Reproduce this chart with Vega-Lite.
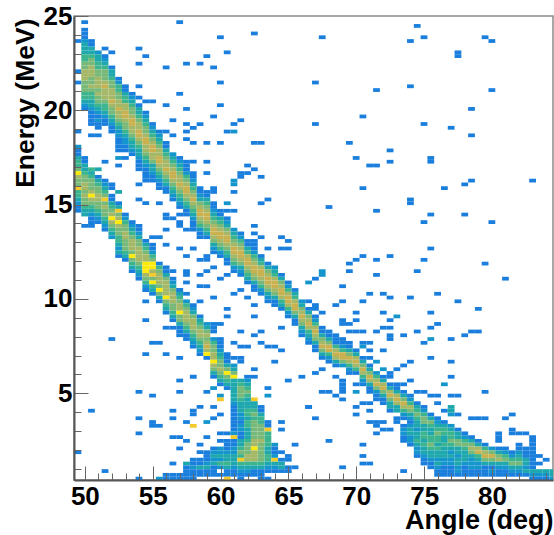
{"$schema":"https://vega.github.io/schema/vega-lite/v6.json","width":479,"height":464,"autosize":"none","padding":{"left":74,"top":16,"right":1,"bottom":55},"background":"white","config":{"view":{"stroke":"#8a8a8a","strokeWidth":1.5}},"data":{"values":[
{"x":49.7,"y":24.6,"c":1},{"x":56.7,"y":24.6,"c":1},{"x":59.7,"y":23.8,"c":1},{"x":62.2,"y":24,"c":1},{"x":49.2,"y":23.6,"c":1},{"x":53.7,"y":23.2,"c":1},{"x":51.2,"y":23.2,"c":1},{"x":51.7,"y":23,"c":1},{"x":60.2,"y":23,"c":1},{"x":58.7,"y":22.8,"c":1},{"x":54.2,"y":22.8,"c":1},{"x":53.7,"y":22.4,"c":1},{"x":57.2,"y":22.4,"c":1},{"x":58.2,"y":22.4,"c":1},{"x":55.7,"y":22.2,"c":1},{"x":59.2,"y":22.2,"c":1},{"x":49.2,"y":22,"c":1},{"x":49.2,"y":21.4,"c":1},{"x":59.7,"y":21.4,"c":1},{"x":53.7,"y":21.2,"c":1},{"x":56.7,"y":20.8,"c":1},{"x":53.7,"y":20.6,"c":1},{"x":54.2,"y":20.4,"c":1},{"x":54.7,"y":20.4,"c":1},{"x":55.7,"y":20.2,"c":1},{"x":59.7,"y":20.2,"c":1},{"x":57.2,"y":20,"c":1},{"x":54.2,"y":19.8,"c":1},{"x":59.2,"y":19.6,"c":1},{"x":56.2,"y":19.4,"c":1},{"x":61.2,"y":19.4,"c":1},{"x":57.2,"y":19.2,"c":1},{"x":58.2,"y":19.2,"c":1},{"x":60.7,"y":19.2,"c":1},{"x":57.7,"y":19,"c":1},{"x":49.2,"y":18.8,"c":1},{"x":55.7,"y":18.8,"c":1},{"x":57.2,"y":18.8,"c":1},{"x":60.2,"y":18.8,"c":1},{"x":60.7,"y":18.8,"c":2},{"x":50.2,"y":18.6,"c":1},{"x":50.7,"y":18.6,"c":1},{"x":56.2,"y":18.6,"c":1},{"x":57.2,"y":18.4,"c":1},{"x":57.7,"y":18.2,"c":1},{"x":58.7,"y":18.2,"c":1},{"x":59.7,"y":18.2,"c":1},{"x":62.2,"y":18.2,"c":1},{"x":62.7,"y":18.2,"c":1},{"x":49.2,"y":18,"c":2},{"x":49.2,"y":17.8,"c":1},{"x":49.2,"y":17.6,"c":1},{"x":52.2,"y":17.4,"c":2},{"x":52.7,"y":17.4,"c":1},{"x":51.2,"y":17.2,"c":1},{"x":52.2,"y":17,"c":1},{"x":57.2,"y":17.2,"c":1},{"x":57.7,"y":17.2,"c":1},{"x":58.7,"y":17.2,"c":1},{"x":61.7,"y":17,"c":1},{"x":62.2,"y":16.8,"c":1},{"x":61.2,"y":16.6,"c":1},{"x":61.7,"y":16.6,"c":1},{"x":58.7,"y":16.6,"c":1},{"x":61.2,"y":16.4,"c":1},{"x":62.7,"y":16.4,"c":1},{"x":60.7,"y":16.2,"c":2},{"x":60.7,"y":16,"c":2},{"x":53.7,"y":16,"c":1},{"x":60.7,"y":15.6,"c":1},{"x":59.2,"y":15.8,"c":1},{"x":59.2,"y":15.6,"c":1},{"x":58.7,"y":15.6,"c":1},{"x":58.2,"y":15.8,"c":1},{"x":63.2,"y":15.2,"c":1},{"x":62.7,"y":15,"c":1},{"x":60.2,"y":15,"c":2},{"x":53.7,"y":15.2,"c":1},{"x":54.2,"y":15,"c":1},{"x":55.2,"y":15,"c":1},{"x":60.2,"y":14.6,"c":1},{"x":60.7,"y":14.6,"c":1},{"x":55.7,"y":14.4,"c":1},{"x":55.7,"y":14.2,"c":1},{"x":56.2,"y":14.2,"c":1},{"x":56.7,"y":14.4,"c":1},{"x":56.7,"y":14,"c":1},{"x":56.7,"y":13.8,"c":1},{"x":62.2,"y":13.8,"c":1},{"x":57.2,"y":13.6,"c":1},{"x":57.7,"y":13.6,"c":1},{"x":55.7,"y":13.6,"c":1},{"x":62.2,"y":13.4,"c":1},{"x":54.7,"y":13.2,"c":1},{"x":55.2,"y":13.2,"c":1},{"x":62.7,"y":13.2,"c":1},{"x":58.2,"y":13.2,"c":1},{"x":64.2,"y":13.2,"c":1},{"x":64.7,"y":13,"c":1},{"x":62.2,"y":13,"c":1},{"x":62.2,"y":12.8,"c":1},{"x":61.7,"y":12.8,"c":1},{"x":55.7,"y":12.8,"c":1},{"x":56.7,"y":12.6,"c":1},{"x":57.7,"y":12.6,"c":1},{"x":63.2,"y":12.6,"c":1},{"x":64.2,"y":12.6,"c":1},{"x":64.7,"y":12.6,"c":1},
{"x":67.2,"y":23.8,"c":1},{"x":74.2,"y":24.4,"c":1},{"x":74.7,"y":23.8,"c":1},{"x":73.7,"y":23.6,"c":1},{"x":79.2,"y":23.8,"c":1},{"x":79.7,"y":23.6,"c":1},{"x":77.2,"y":23,"c":1},{"x":77.2,"y":22.8,"c":1},{"x":66.7,"y":21.4,"c":1},{"x":71.2,"y":21,"c":1},{"x":73.7,"y":21.2,"c":1},{"x":79.7,"y":21,"c":1},{"x":78.2,"y":20,"c":1},{"x":70.2,"y":19.6,"c":1},{"x":66.7,"y":19.2,"c":1},{"x":74.7,"y":19.2,"c":1},{"x":76.7,"y":19,"c":1},{"x":78.2,"y":18.6,"c":1},{"x":69.2,"y":18.2,"c":1},{"x":72.2,"y":17.8,"c":1},{"x":69.7,"y":17.4,"c":1},{"x":72.2,"y":17.2,"c":1},{"x":75.2,"y":17.4,"c":1},{"x":75.2,"y":17.2,"c":1},{"x":70.7,"y":17,"c":1},{"x":71.2,"y":17,"c":1},{"x":78.2,"y":16.2,"c":1},{"x":77.7,"y":16,"c":1},{"x":82.7,"y":16.2,"c":1},{"x":70.2,"y":15.8,"c":1},{"x":76.2,"y":15.8,"c":1},{"x":73.7,"y":15.2,"c":1},{"x":73.7,"y":15,"c":1},{"x":67.7,"y":14.8,"c":1},{"x":71.2,"y":14.6,"c":1},{"x":75.2,"y":14.4,"c":1},{"x":77.7,"y":14.4,"c":1},{"x":74.7,"y":14,"c":1},{"x":79.7,"y":14,"c":1},{"x":75.2,"y":12.6,"c":1},
{"x":70.2,"y":12.2,"c":1},{"x":72.2,"y":12.2,"c":1},{"x":69.7,"y":12,"c":1},{"x":71.2,"y":12,"c":1},{"x":74.7,"y":12,"c":1},{"x":69.2,"y":11.8,"c":1},{"x":79.2,"y":11.8,"c":1},{"x":69.2,"y":11.4,"c":1},{"x":74.2,"y":11.4,"c":1},{"x":67.2,"y":11.4,"c":2},{"x":67.2,"y":11.2,"c":2},{"x":71.2,"y":11.2,"c":1},{"x":66.7,"y":11,"c":1},{"x":80.7,"y":11,"c":1},{"x":66.2,"y":10.8,"c":2},{"x":68.7,"y":10.6,"c":1},{"x":70.7,"y":10.2,"c":1},{"x":71.7,"y":10.2,"c":1},{"x":75.7,"y":10.2,"c":1},{"x":72.2,"y":10,"c":1},{"x":73.7,"y":10,"c":1},{"x":68.7,"y":9.8,"c":1},{"x":70.2,"y":9.8,"c":1},{"x":77.2,"y":9.8,"c":1},{"x":68.2,"y":9.6,"c":1},{"x":66.2,"y":9.8,"c":1},{"x":66.7,"y":9.6,"c":1},{"x":66.7,"y":9.4,"c":1},{"x":67.2,"y":9.2,"c":1},{"x":78.7,"y":9.4,"c":1},{"x":69.7,"y":9.2,"c":1},{"x":71.7,"y":9.2,"c":1},{"x":75.2,"y":9.2,"c":1},{"x":72.7,"y":9,"c":2},{"x":72.2,"y":8.8,"c":1},{"x":68.7,"y":8.8,"c":1},{"x":69.7,"y":8.8,"c":1},{"x":68.7,"y":8.6,"c":1},{"x":69.2,"y":8.6,"c":1},{"x":75.7,"y":8.6,"c":1},{"x":75.2,"y":8.4,"c":1},{"x":71.7,"y":8.4,"c":1},{"x":72.2,"y":8.4,"c":1},{"x":69.2,"y":8.2,"c":1},{"x":69.7,"y":8.2,"c":1},{"x":70.2,"y":8.2,"c":1},{"x":71.2,"y":8.2,"c":1},{"x":74.2,"y":8.2,"c":1},{"x":72.2,"y":8,"c":1},{"x":72.2,"y":7.8,"c":1},{"x":78.2,"y":8.2,"c":1},{"x":78.7,"y":8.2,"c":1},{"x":77.7,"y":8,"c":1},{"x":73.2,"y":8,"c":1},{"x":75.2,"y":7.8,"c":2},{"x":76.7,"y":7.8,"c":1},{"x":74.7,"y":7.6,"c":1},{"x":70.2,"y":7.6,"c":1},{"x":70.7,"y":7.6,"c":1},{"x":70.2,"y":7.4,"c":2},{"x":70.7,"y":7.2,"c":1},{"x":71.7,"y":7.2,"c":1},{"x":75.2,"y":6.8,"c":1},{"x":76.7,"y":6.6,"c":1},{"x":70.7,"y":6.8,"c":1},{"x":71.2,"y":6.6,"c":2},{"x":70.7,"y":6.4,"c":1},{"x":73.7,"y":6.6,"c":1},{"x":73.2,"y":6.4,"c":1},{"x":72.7,"y":6.2,"c":1},{"x":71.7,"y":6.2,"c":2},{"x":72.2,"y":6,"c":1},{"x":72.2,"y":5.8,"c":1},{"x":76.7,"y":5.8,"c":1},{"x":68.2,"y":5.8,"c":1},{"x":68.7,"y":5.6,"c":1},{"x":68.7,"y":5.4,"c":1},{"x":68.7,"y":5.2,"c":1},{"x":68.7,"y":5,"c":1},{"x":69.7,"y":5.4,"c":1},{"x":69.7,"y":5,"c":2},{"x":67.2,"y":6.2,"c":1},{"x":66.7,"y":6,"c":1},{"x":70.7,"y":5.2,"c":1},{"x":73.7,"y":5.6,"c":1},{"x":76.2,"y":5.4,"c":2},{"x":72.2,"y":5.4,"c":1},{"x":72.7,"y":5.4,"c":1},{"x":73.2,"y":5.4,"c":1},{"x":79.2,"y":5,"c":1},{"x":67.2,"y":5,"c":1},{"x":67.7,"y":5,"c":1},{"x":68.2,"y":4.8,"c":1},{"x":68.7,"y":4.6,"c":1},{"x":74.2,"y":5,"c":1},{"x":74.7,"y":5,"c":1},{"x":70.7,"y":5,"c":1},{"x":75.2,"y":4.8,"c":1},{"x":75.7,"y":4.8,"c":1},{"x":76.7,"y":4.8,"c":1},{"x":77.2,"y":4.8,"c":1},{"x":75.7,"y":4.4,"c":1},{"x":66.2,"y":4.2,"c":1},{"x":69.7,"y":4.2,"c":1},{"x":70.2,"y":4.4,"c":1},{"x":70.7,"y":4.4,"c":1},{"x":69.7,"y":3.8,"c":1},{"x":70.7,"y":4,"c":1},{"x":66.7,"y":3.6,"c":1},{"x":76.2,"y":4,"c":1},{"x":77.2,"y":3.8,"c":1},{"x":76.7,"y":4.2,"c":3},{"x":76.7,"y":4,"c":3},{"x":76.7,"y":3.8,"c":2},{"x":78.2,"y":3.6,"c":1},{"x":78.7,"y":3.6,"c":1},{"x":79.2,"y":3.6,"c":1},{"x":80.7,"y":3.6,"c":1},{"x":81.2,"y":3.8,"c":1},{"x":70.7,"y":3.4,"c":1},{"x":71.2,"y":3.4,"c":1},{"x":71.7,"y":3.4,"c":1},{"x":71.2,"y":3.2,"c":1},{"x":71.7,"y":3,"c":1},{"x":72.2,"y":3,"c":1},{"x":71.2,"y":2.8,"c":1},{"x":67.7,"y":2.4,"c":1},{"x":70.2,"y":2.2,"c":1},{"x":70.2,"y":1.6,"c":1},{"x":70.2,"y":1.2,"c":1},{"x":70.7,"y":1.2,"c":1},{"x":68.7,"y":1,"c":1},{"x":73.2,"y":0.8,"c":1},
{"x":57.2,"y":12.2,"c":1},{"x":58.2,"y":12,"c":1},{"x":58.7,"y":12.2,"c":1},{"x":58.7,"y":12,"c":1},{"x":59.2,"y":11.6,"c":1},{"x":58.7,"y":11.4,"c":1},{"x":58.2,"y":11.2,"c":1},{"x":55.7,"y":11.6,"c":1},{"x":56.2,"y":11.4,"c":1},{"x":57.2,"y":11.4,"c":1},{"x":57.2,"y":11.2,"c":1},{"x":55.7,"y":11.2,"c":1},{"x":56.2,"y":11,"c":1},{"x":59.7,"y":11,"c":1},{"x":60.2,"y":11.2,"c":1},{"x":57.2,"y":10.8,"c":1},{"x":58.2,"y":10.6,"c":1},{"x":58.7,"y":10.6,"c":1},{"x":56.7,"y":10.4,"c":1},{"x":56.7,"y":10.2,"c":1},{"x":57.2,"y":10.2,"c":1},{"x":60.7,"y":10.2,"c":1},{"x":61.2,"y":10.4,"c":1},{"x":59.2,"y":10,"c":1},{"x":61.7,"y":10,"c":1},{"x":54.2,"y":9.8,"c":1},{"x":58.2,"y":9.8,"c":1},{"x":62.2,"y":9.6,"c":1},{"x":60.2,"y":9.4,"c":1},{"x":60.2,"y":9,"c":1},{"x":62.2,"y":9,"c":1},{"x":54.2,"y":8.8,"c":1},{"x":59.2,"y":8.6,"c":1},{"x":59.7,"y":8.6,"c":1},{"x":55.7,"y":8.4,"c":1},{"x":56.2,"y":8.4,"c":1},{"x":56.7,"y":8.4,"c":1},{"x":59.2,"y":8.4,"c":1},{"x":59.2,"y":8.2,"c":1},{"x":61.2,"y":8.2,"c":1},{"x":62.7,"y":8.2,"c":1},{"x":64.2,"y":8.4,"c":1},{"x":62.2,"y":8,"c":1},{"x":51.7,"y":7.8,"c":1},{"x":54.7,"y":7.6,"c":1},{"x":55.2,"y":7.6,"c":1},{"x":60.7,"y":7.6,"c":1},{"x":62.7,"y":7.6,"c":1},{"x":61.2,"y":7.4,"c":1},{"x":61.7,"y":7.4,"c":1},{"x":63.2,"y":7.4,"c":1},{"x":63.7,"y":7.4,"c":1},{"x":64.2,"y":7.2,"c":1},{"x":54.2,"y":7,"c":1},{"x":55.7,"y":7,"c":1},{"x":56.7,"y":6.8,"c":1},{"x":60.7,"y":6.8,"c":1},{"x":61.2,"y":6.8,"c":1},{"x":61.2,"y":6.6,"c":1},{"x":63.7,"y":6.6,"c":1},{"x":62.2,"y":6.2,"c":1},{"x":57.7,"y":5.8,"c":1},{"x":59.2,"y":5.8,"c":1},{"x":56.7,"y":5.6,"c":1},{"x":64.7,"y":5.6,"c":1},{"x":65.7,"y":5.8,"c":1},{"x":63.2,"y":5.2,"c":1},{"x":59.2,"y":5.2,"c":2},{"x":53.7,"y":5,"c":1},{"x":56.7,"y":5,"c":1},{"x":58.7,"y":5,"c":1},{"x":54.7,"y":4.8,"c":1},{"x":59.7,"y":4.8,"c":2},{"x":63.2,"y":4.8,"c":2},{"x":59.7,"y":4.6,"c":8},{"x":58.2,"y":4.2,"c":1},{"x":59.2,"y":4.2,"c":1},{"x":66.2,"y":4.2,"c":1},{"x":50.2,"y":4,"c":1},{"x":56.2,"y":4,"c":1},{"x":57.7,"y":4,"c":1},{"x":57.7,"y":3.8,"c":1},{"x":59.7,"y":3.8,"c":1},{"x":53.7,"y":3.6,"c":1},{"x":56.2,"y":3.6,"c":1},{"x":59.2,"y":3.6,"c":1},{"x":54.7,"y":3.4,"c":1},{"x":57.2,"y":3.4,"c":1},{"x":58.7,"y":3.4,"c":2},{"x":54.7,"y":3.2,"c":1},{"x":55.2,"y":3.2,"c":1},{"x":57.7,"y":3.2,"c":8},{"x":64.2,"y":3.4,"c":1},{"x":64.2,"y":3,"c":1},{"x":53.7,"y":2.8,"c":1},{"x":59.7,"y":2.8,"c":1},{"x":60.2,"y":2.8,"c":1},{"x":56.2,"y":2.6,"c":1},{"x":56.7,"y":2.6,"c":1},{"x":58.7,"y":2.6,"c":1},{"x":57.2,"y":2.4,"c":1},{"x":59.7,"y":2.4,"c":1},{"x":60.2,"y":2.4,"c":1},{"x":58.2,"y":2.2,"c":1},{"x":60.2,"y":2.2,"c":1},{"x":65.2,"y":2.2,"c":1},{"x":63.7,"y":2.2,"c":2},{"x":56.7,"y":2,"c":1},{"x":49.2,"y":1.8,"c":1},{"x":58.2,"y":1.8,"c":1},{"x":58.7,"y":1.8,"c":1},{"x":64.2,"y":1.8,"c":1},{"x":64.7,"y":1.6,"c":1},{"x":64.7,"y":1.4,"c":1},{"x":57.7,"y":1.4,"c":1},{"x":56.2,"y":1.2,"c":1},{"x":65.2,"y":1,"c":1},{"x":51.2,"y":0.8,"c":1},{"x":53.7,"y":0.4,"c":1},
{"x":49.7,"y":24.2,"c":1},{"x":49.7,"y":24,"c":1},{"x":49.7,"y":23.8,"c":1},{"x":49.7,"y":23.6,"c":2},{"x":49.7,"y":23.4,"c":3},{"x":49.7,"y":23.2,"c":3},{"x":49.7,"y":23,"c":3},{"x":49.7,"y":22.8,"c":4},{"x":49.7,"y":22.6,"c":4},{"x":49.7,"y":22.4,"c":5},{"x":49.7,"y":22.2,"c":5},{"x":49.7,"y":22,"c":6},{"x":49.7,"y":21.8,"c":6},{"x":49.7,"y":21.6,"c":6},{"x":49.7,"y":21.4,"c":5},{"x":49.7,"y":21.2,"c":5},{"x":49.7,"y":21,"c":5},{"x":49.7,"y":20.8,"c":4},{"x":49.7,"y":20.6,"c":4},{"x":49.7,"y":20.4,"c":3},{"x":49.7,"y":20.2,"c":2},{"x":49.7,"y":20,"c":1},
{"x":50.2,"y":23.6,"c":1},{"x":50.2,"y":23.4,"c":1},{"x":50.2,"y":23.2,"c":3},{"x":50.2,"y":23,"c":3},{"x":50.2,"y":22.8,"c":4},{"x":50.2,"y":22.6,"c":5},{"x":50.2,"y":22.4,"c":5},{"x":50.2,"y":22.2,"c":6},{"x":50.2,"y":22,"c":6},{"x":50.2,"y":21.8,"c":6},{"x":50.2,"y":21.6,"c":5},{"x":50.2,"y":21.4,"c":5},{"x":50.2,"y":21.2,"c":6},{"x":50.2,"y":21,"c":5},{"x":50.2,"y":20.8,"c":4},{"x":50.2,"y":20.6,"c":4},{"x":50.2,"y":20.4,"c":3},{"x":50.2,"y":20.2,"c":3},{"x":50.2,"y":20,"c":2},{"x":50.2,"y":19.8,"c":1},{"x":50.2,"y":19.6,"c":1},{"x":50.2,"y":19.4,"c":1},{"x":50.2,"y":19.2,"c":1},
{"x":50.7,"y":23,"c":2},{"x":50.7,"y":22.8,"c":3},{"x":50.7,"y":22.6,"c":3},{"x":50.7,"y":22.4,"c":4},{"x":50.7,"y":22.2,"c":4},{"x":50.7,"y":22,"c":5},{"x":50.7,"y":21.8,"c":5},{"x":50.7,"y":21.6,"c":6},{"x":50.7,"y":21.4,"c":6},{"x":50.7,"y":21.2,"c":6},{"x":50.7,"y":21,"c":5},{"x":50.7,"y":20.8,"c":6},{"x":50.7,"y":20.6,"c":5},{"x":50.7,"y":20.4,"c":5},{"x":50.7,"y":20.2,"c":4},{"x":50.7,"y":20,"c":3},{"x":50.7,"y":19.8,"c":2},{"x":50.7,"y":19.6,"c":1},{"x":50.7,"y":19.4,"c":2},{"x":50.7,"y":19.2,"c":1},{"x":50.7,"y":19,"c":1},
{"x":51.2,"y":22.8,"c":1},{"x":51.2,"y":22.6,"c":2},{"x":51.2,"y":22.4,"c":3},{"x":51.2,"y":22.2,"c":4},{"x":51.2,"y":22,"c":5},{"x":51.2,"y":21.8,"c":5},{"x":51.2,"y":21.6,"c":5},{"x":51.2,"y":21.4,"c":6},{"x":51.2,"y":21.2,"c":7},{"x":51.2,"y":21,"c":6},{"x":51.2,"y":20.8,"c":6},{"x":51.2,"y":20.6,"c":6},{"x":51.2,"y":20.4,"c":5},{"x":51.2,"y":20.2,"c":4},{"x":51.2,"y":20,"c":4},{"x":51.2,"y":19.8,"c":3},{"x":51.2,"y":19.6,"c":2},{"x":51.2,"y":19.4,"c":1},{"x":51.2,"y":19.2,"c":1},
{"x":51.7,"y":22.2,"c":1},{"x":51.7,"y":22,"c":3},{"x":51.7,"y":21.8,"c":3},{"x":51.7,"y":21.6,"c":4},{"x":51.7,"y":21.4,"c":5},{"x":51.7,"y":21.2,"c":5},{"x":51.7,"y":21,"c":6},{"x":51.7,"y":20.8,"c":6},{"x":51.7,"y":20.6,"c":6},{"x":51.7,"y":20.4,"c":7},{"x":51.7,"y":20.2,"c":6},{"x":51.7,"y":20,"c":5},{"x":51.7,"y":19.8,"c":5},{"x":51.7,"y":19.6,"c":4},{"x":51.7,"y":19.4,"c":3},{"x":51.7,"y":19.2,"c":2},{"x":51.7,"y":19,"c":1},{"x":51.7,"y":18.8,"c":1},
{"x":52.2,"y":21.6,"c":1},{"x":52.2,"y":21.4,"c":2},{"x":52.2,"y":21.2,"c":4},{"x":52.2,"y":21,"c":4},{"x":52.2,"y":20.8,"c":5},{"x":52.2,"y":20.6,"c":5},{"x":52.2,"y":20.4,"c":6},{"x":52.2,"y":20.2,"c":6},{"x":52.2,"y":20,"c":7},{"x":52.2,"y":19.8,"c":6},{"x":52.2,"y":19.6,"c":6},{"x":52.2,"y":19.4,"c":5},{"x":52.2,"y":19.2,"c":4},{"x":52.2,"y":19,"c":3},{"x":52.2,"y":18.8,"c":2},{"x":52.2,"y":18.6,"c":2},{"x":52.2,"y":18.4,"c":1},{"x":52.2,"y":18.2,"c":1},{"x":52.2,"y":18,"c":1},{"x":52.2,"y":17.8,"c":1},
{"x":52.7,"y":21.2,"c":1},{"x":52.7,"y":21,"c":1},{"x":52.7,"y":20.8,"c":3},{"x":52.7,"y":20.6,"c":4},{"x":52.7,"y":20.4,"c":4},{"x":52.7,"y":20.2,"c":6},{"x":52.7,"y":20,"c":6},{"x":52.7,"y":19.8,"c":7},{"x":52.7,"y":19.6,"c":7},{"x":52.7,"y":19.4,"c":6},{"x":52.7,"y":19.2,"c":5},{"x":52.7,"y":19,"c":5},{"x":52.7,"y":18.8,"c":4},{"x":52.7,"y":18.6,"c":3},{"x":52.7,"y":18.4,"c":2},{"x":52.7,"y":18.2,"c":2},{"x":52.7,"y":18,"c":1},{"x":52.7,"y":17.8,"c":1},
{"x":53.2,"y":20.8,"c":1},{"x":53.2,"y":20.6,"c":2},{"x":53.2,"y":20.4,"c":3},{"x":53.2,"y":20.2,"c":4},{"x":53.2,"y":20,"c":5},{"x":53.2,"y":19.8,"c":5},{"x":53.2,"y":19.6,"c":6},{"x":53.2,"y":19.4,"c":7},{"x":53.2,"y":19.2,"c":7},{"x":53.2,"y":19,"c":6},{"x":53.2,"y":18.8,"c":6},{"x":53.2,"y":18.6,"c":5},{"x":53.2,"y":18.4,"c":4},{"x":53.2,"y":18.2,"c":3},{"x":53.2,"y":18,"c":3},{"x":53.2,"y":17.8,"c":2},{"x":53.2,"y":17.6,"c":1},
{"x":53.7,"y":20.2,"c":1},{"x":53.7,"y":20,"c":3},{"x":53.7,"y":19.8,"c":3},{"x":53.7,"y":19.6,"c":4},{"x":53.7,"y":19.4,"c":5},{"x":53.7,"y":19.2,"c":6},{"x":53.7,"y":19,"c":6},{"x":53.7,"y":18.8,"c":7},{"x":53.7,"y":18.6,"c":7},{"x":53.7,"y":18.4,"c":6},{"x":53.7,"y":18.2,"c":5},{"x":53.7,"y":18,"c":4},{"x":53.7,"y":17.8,"c":3},{"x":53.7,"y":17.6,"c":3},{"x":53.7,"y":17.4,"c":2},{"x":53.7,"y":17.2,"c":1},{"x":53.7,"y":17,"c":1},{"x":53.7,"y":16.8,"c":1},
{"x":54.2,"y":19.6,"c":2},{"x":54.2,"y":19.4,"c":3},{"x":54.2,"y":19.2,"c":4},{"x":54.2,"y":19,"c":5},{"x":54.2,"y":18.8,"c":5},{"x":54.2,"y":18.6,"c":6},{"x":54.2,"y":18.4,"c":7},{"x":54.2,"y":18.2,"c":7},{"x":54.2,"y":18,"c":6},{"x":54.2,"y":17.8,"c":6},{"x":54.2,"y":17.6,"c":5},{"x":54.2,"y":17.4,"c":4},{"x":54.2,"y":17.2,"c":3},{"x":54.2,"y":17,"c":2},{"x":54.2,"y":16.8,"c":1},{"x":54.2,"y":16.6,"c":1},{"x":54.2,"y":16.4,"c":1},{"x":54.2,"y":16.2,"c":1},
{"x":54.7,"y":19.2,"c":1},{"x":54.7,"y":19,"c":2},{"x":54.7,"y":18.8,"c":3},{"x":54.7,"y":18.6,"c":4},{"x":54.7,"y":18.4,"c":5},{"x":54.7,"y":18.2,"c":6},{"x":54.7,"y":18,"c":7},{"x":54.7,"y":17.8,"c":7},{"x":54.7,"y":17.6,"c":6},{"x":54.7,"y":17.4,"c":6},{"x":54.7,"y":17.2,"c":5},{"x":54.7,"y":17,"c":3},{"x":54.7,"y":16.8,"c":3},{"x":54.7,"y":16.6,"c":2},{"x":54.7,"y":16.4,"c":1},{"x":54.7,"y":16.2,"c":1},
{"x":55.2,"y":18.8,"c":1},{"x":55.2,"y":18.6,"c":2},{"x":55.2,"y":18.4,"c":3},{"x":55.2,"y":18.2,"c":4},{"x":55.2,"y":18,"c":5},{"x":55.2,"y":17.8,"c":6},{"x":55.2,"y":17.6,"c":6},{"x":55.2,"y":17.4,"c":7},{"x":55.2,"y":17.2,"c":7},{"x":55.2,"y":17,"c":6},{"x":55.2,"y":16.8,"c":5},{"x":55.2,"y":16.6,"c":4},{"x":55.2,"y":16.4,"c":3},{"x":55.2,"y":16.2,"c":2},{"x":55.2,"y":16,"c":1},{"x":55.2,"y":15.8,"c":1},
{"x":55.7,"y":18.2,"c":1},{"x":55.7,"y":18,"c":1},{"x":55.7,"y":17.8,"c":3},{"x":55.7,"y":17.6,"c":4},{"x":55.7,"y":17.4,"c":5},{"x":55.7,"y":17.2,"c":6},{"x":55.7,"y":17,"c":6},{"x":55.7,"y":16.8,"c":7},{"x":55.7,"y":16.6,"c":6},{"x":55.7,"y":16.4,"c":5},{"x":55.7,"y":16.2,"c":4},{"x":55.7,"y":16,"c":3},{"x":55.7,"y":15.8,"c":1},{"x":55.7,"y":15.6,"c":1},
{"x":56.2,"y":17.6,"c":2},{"x":56.2,"y":17.4,"c":3},{"x":56.2,"y":17.2,"c":4},{"x":56.2,"y":17,"c":5},{"x":56.2,"y":16.8,"c":6},{"x":56.2,"y":16.6,"c":7},{"x":56.2,"y":16.4,"c":7},{"x":56.2,"y":16.2,"c":6},{"x":56.2,"y":16,"c":5},{"x":56.2,"y":15.8,"c":4},{"x":56.2,"y":15.6,"c":3},{"x":56.2,"y":15.4,"c":2},{"x":56.2,"y":15.2,"c":1},
{"x":56.7,"y":17.4,"c":1},{"x":56.7,"y":17.2,"c":2},{"x":56.7,"y":17,"c":3},{"x":56.7,"y":16.8,"c":4},{"x":56.7,"y":16.6,"c":5},{"x":56.7,"y":16.4,"c":6},{"x":56.7,"y":16.2,"c":6},{"x":56.7,"y":16,"c":7},{"x":56.7,"y":15.8,"c":6},{"x":56.7,"y":15.6,"c":5},{"x":56.7,"y":15.4,"c":4},{"x":56.7,"y":15.2,"c":3},{"x":56.7,"y":15,"c":2},{"x":56.7,"y":14.8,"c":1},
{"x":57.2,"y":17,"c":1},{"x":57.2,"y":16.8,"c":1},{"x":57.2,"y":16.6,"c":2},{"x":57.2,"y":16.4,"c":4},{"x":57.2,"y":16.2,"c":5},{"x":57.2,"y":16,"c":6},{"x":57.2,"y":15.8,"c":7},{"x":57.2,"y":15.6,"c":7},{"x":57.2,"y":15.4,"c":6},{"x":57.2,"y":15.2,"c":5},{"x":57.2,"y":15,"c":4},{"x":57.2,"y":14.8,"c":3},{"x":57.2,"y":14.6,"c":1},{"x":57.2,"y":14.4,"c":1},
{"x":57.7,"y":16.6,"c":1},{"x":57.7,"y":16.4,"c":1},{"x":57.7,"y":16.2,"c":2},{"x":57.7,"y":16,"c":3},{"x":57.7,"y":15.8,"c":4},{"x":57.7,"y":15.6,"c":5},{"x":57.7,"y":15.4,"c":6},{"x":57.7,"y":15.2,"c":7},{"x":57.7,"y":15,"c":6},{"x":57.7,"y":14.8,"c":5},{"x":57.7,"y":14.6,"c":4},{"x":57.7,"y":14.4,"c":3},{"x":57.7,"y":14.2,"c":2},{"x":57.7,"y":14,"c":1},{"x":57.7,"y":13.8,"c":1},
{"x":58.2,"y":15.6,"c":1},{"x":58.2,"y":15.4,"c":2},{"x":58.2,"y":15.2,"c":3},{"x":58.2,"y":15,"c":5},{"x":58.2,"y":14.8,"c":6},{"x":58.2,"y":14.6,"c":7},{"x":58.2,"y":14.4,"c":7},{"x":58.2,"y":14.2,"c":6},{"x":58.2,"y":14,"c":5},{"x":58.2,"y":13.8,"c":4},{"x":58.2,"y":13.6,"c":2},{"x":58.2,"y":13.4,"c":1},
{"x":58.7,"y":15.4,"c":1},{"x":58.7,"y":15.2,"c":3},{"x":58.7,"y":15,"c":4},{"x":58.7,"y":14.8,"c":5},{"x":58.7,"y":14.6,"c":6},{"x":58.7,"y":14.4,"c":7},{"x":58.7,"y":14.2,"c":7},{"x":58.7,"y":14,"c":6},{"x":58.7,"y":13.8,"c":5},{"x":58.7,"y":13.6,"c":4},{"x":58.7,"y":13.4,"c":3},{"x":58.7,"y":13.2,"c":1},
{"x":59.2,"y":15,"c":1},{"x":59.2,"y":14.8,"c":1},{"x":59.2,"y":14.6,"c":2},{"x":59.2,"y":14.4,"c":3},{"x":59.2,"y":14.2,"c":4},{"x":59.2,"y":14,"c":5},{"x":59.2,"y":13.8,"c":6},{"x":59.2,"y":13.6,"c":7},{"x":59.2,"y":13.4,"c":7},{"x":59.2,"y":13.2,"c":6},{"x":59.2,"y":13,"c":5},{"x":59.2,"y":12.8,"c":3},{"x":59.2,"y":12.6,"c":2},{"x":59.2,"y":12.4,"c":1},
{"x":59.7,"y":14.6,"c":1},{"x":59.7,"y":14.4,"c":1},{"x":59.7,"y":14.2,"c":3},{"x":59.7,"y":14,"c":4},{"x":59.7,"y":13.8,"c":5},{"x":59.7,"y":13.6,"c":6},{"x":59.7,"y":13.4,"c":7},{"x":59.7,"y":13.2,"c":7},{"x":59.7,"y":13,"c":6},{"x":59.7,"y":12.8,"c":5},{"x":59.7,"y":12.6,"c":4},{"x":59.7,"y":12.4,"c":2},{"x":59.7,"y":12.2,"c":1},
{"x":60.2,"y":14.2,"c":1},{"x":60.2,"y":14,"c":2},{"x":60.2,"y":13.8,"c":3},{"x":60.2,"y":13.6,"c":5},{"x":60.2,"y":13.4,"c":6},{"x":60.2,"y":13.2,"c":7},{"x":60.2,"y":13,"c":7},{"x":60.2,"y":12.8,"c":6},{"x":60.2,"y":12.6,"c":5},{"x":60.2,"y":12.4,"c":4},{"x":60.2,"y":12.2,"c":3},{"x":60.2,"y":12,"c":1},{"x":60.2,"y":11.8,"c":1},
{"x":60.7,"y":13.6,"c":2},{"x":60.7,"y":13.4,"c":3},{"x":60.7,"y":13.2,"c":4},{"x":60.7,"y":13,"c":5},{"x":60.7,"y":12.8,"c":6},{"x":60.7,"y":12.6,"c":7},{"x":60.7,"y":12.4,"c":7},{"x":60.7,"y":12.2,"c":6},{"x":60.7,"y":12,"c":5},{"x":60.7,"y":11.8,"c":4},{"x":60.7,"y":11.6,"c":2},{"x":60.7,"y":11.4,"c":1},
{"x":61.2,"y":13.4,"c":1},{"x":61.2,"y":13.2,"c":2},{"x":61.2,"y":13,"c":4},{"x":61.2,"y":12.8,"c":5},{"x":61.2,"y":12.6,"c":6},{"x":61.2,"y":12.4,"c":7},{"x":61.2,"y":12.2,"c":7},{"x":61.2,"y":12,"c":6},{"x":61.2,"y":11.8,"c":5},{"x":61.2,"y":11.6,"c":3},{"x":61.2,"y":11.4,"c":2},{"x":61.2,"y":11.2,"c":1},
{"x":61.7,"y":13,"c":1},{"x":61.7,"y":12.6,"c":3},{"x":61.7,"y":12.4,"c":4},{"x":61.7,"y":12.2,"c":6},{"x":61.7,"y":12,"c":7},{"x":61.7,"y":11.8,"c":7},{"x":61.7,"y":11.6,"c":6},{"x":61.7,"y":11.4,"c":5},{"x":61.7,"y":11.2,"c":4},{"x":61.7,"y":11,"c":3},{"x":61.7,"y":10.8,"c":1},
{"x":62.2,"y":12.6,"c":1},{"x":62.2,"y":12.4,"c":2},{"x":62.2,"y":12.2,"c":4},{"x":62.2,"y":12,"c":5},{"x":62.2,"y":11.8,"c":6},{"x":62.2,"y":11.6,"c":7},{"x":62.2,"y":11.4,"c":7},{"x":62.2,"y":11.2,"c":6},{"x":62.2,"y":11,"c":5},{"x":62.2,"y":10.8,"c":3},{"x":62.2,"y":10.6,"c":1},{"x":62.2,"y":10.4,"c":1},
{"x":62.7,"y":12.2,"c":1},{"x":62.7,"y":12,"c":3},{"x":62.7,"y":11.8,"c":4},{"x":62.7,"y":11.6,"c":6},{"x":62.7,"y":11.4,"c":7},{"x":62.7,"y":11.2,"c":7},{"x":62.7,"y":11,"c":6},{"x":62.7,"y":10.8,"c":5},{"x":62.7,"y":10.6,"c":4},{"x":62.7,"y":10.4,"c":2},{"x":62.7,"y":10.2,"c":1},
{"x":63.2,"y":11.8,"c":1},{"x":63.2,"y":11.6,"c":3},{"x":63.2,"y":11.4,"c":5},{"x":63.2,"y":11.2,"c":6},{"x":63.2,"y":11,"c":7},{"x":63.2,"y":10.8,"c":7},{"x":63.2,"y":10.6,"c":6},{"x":63.2,"y":10.4,"c":5},{"x":63.2,"y":10.2,"c":3},{"x":63.2,"y":10,"c":2},{"x":63.2,"y":9.8,"c":1},
{"x":63.7,"y":11.6,"c":2},{"x":63.7,"y":11.4,"c":3},{"x":63.7,"y":11.2,"c":4},{"x":63.7,"y":11,"c":6},{"x":63.7,"y":10.8,"c":7},{"x":63.7,"y":10.6,"c":7},{"x":63.7,"y":10.4,"c":6},{"x":63.7,"y":10.2,"c":5},{"x":63.7,"y":10,"c":3},{"x":63.7,"y":9.8,"c":1},{"x":63.7,"y":9.6,"c":1},
{"x":64.2,"y":11.2,"c":1},{"x":64.2,"y":11,"c":3},{"x":64.2,"y":10.8,"c":5},{"x":64.2,"y":10.6,"c":6},{"x":64.2,"y":10.4,"c":7},{"x":64.2,"y":10.2,"c":7},{"x":64.2,"y":10,"c":6},{"x":64.2,"y":9.8,"c":4},{"x":64.2,"y":9.6,"c":3},{"x":64.2,"y":9.4,"c":1},
{"x":64.7,"y":10.8,"c":1},{"x":64.7,"y":10.6,"c":2},{"x":64.7,"y":10.4,"c":4},{"x":64.7,"y":10.2,"c":6},{"x":64.7,"y":10,"c":7},{"x":64.7,"y":9.8,"c":7},{"x":64.7,"y":9.6,"c":6},{"x":64.7,"y":9.4,"c":4},{"x":64.7,"y":9.2,"c":2},{"x":64.7,"y":9,"c":1},
{"x":65.2,"y":10.4,"c":1},{"x":65.2,"y":10.2,"c":3},{"x":65.2,"y":10,"c":4},{"x":65.2,"y":9.8,"c":6},{"x":65.2,"y":9.6,"c":7},{"x":65.2,"y":9.4,"c":7},{"x":65.2,"y":9.2,"c":5},{"x":65.2,"y":9,"c":3},{"x":65.2,"y":8.8,"c":1},{"x":65.2,"y":8.6,"c":1},
{"x":65.7,"y":9.8,"c":2},{"x":65.7,"y":9.6,"c":3},{"x":65.7,"y":9.4,"c":5},{"x":65.7,"y":9.2,"c":6},{"x":65.7,"y":9,"c":7},{"x":65.7,"y":8.8,"c":6},{"x":65.7,"y":8.6,"c":5},{"x":65.7,"y":8.4,"c":3},{"x":65.7,"y":8.2,"c":2},{"x":65.7,"y":8,"c":1},
{"x":66.2,"y":9.4,"c":1},{"x":66.2,"y":9.2,"c":3},{"x":66.2,"y":9,"c":5},{"x":66.2,"y":8.8,"c":6},{"x":66.2,"y":8.6,"c":7},{"x":66.2,"y":8.4,"c":6},{"x":66.2,"y":8.2,"c":4},{"x":66.2,"y":8,"c":3},{"x":66.2,"y":7.8,"c":2},{"x":66.2,"y":7.6,"c":1},
{"x":66.7,"y":9,"c":1},{"x":66.7,"y":8.8,"c":2},{"x":66.7,"y":8.6,"c":4},{"x":66.7,"y":8.4,"c":6},{"x":66.7,"y":8.2,"c":7},{"x":66.7,"y":8,"c":6},{"x":66.7,"y":7.8,"c":5},{"x":66.7,"y":7.6,"c":3},{"x":66.7,"y":7.4,"c":1},{"x":66.7,"y":7.2,"c":1},
{"x":67.2,"y":8.4,"c":1},{"x":67.2,"y":8.2,"c":1},{"x":67.2,"y":8,"c":3},{"x":67.2,"y":7.8,"c":5},{"x":67.2,"y":7.6,"c":6},{"x":67.2,"y":7.4,"c":7},{"x":67.2,"y":7.2,"c":5},{"x":67.2,"y":7,"c":3},{"x":67.2,"y":6.8,"c":1},
{"x":67.7,"y":8.2,"c":1},{"x":67.7,"y":8,"c":1},{"x":67.7,"y":7.8,"c":3},{"x":67.7,"y":7.6,"c":5},{"x":67.7,"y":7.4,"c":7},{"x":67.7,"y":7.2,"c":7},{"x":67.7,"y":7,"c":4},{"x":67.7,"y":6.8,"c":2},{"x":67.7,"y":6.6,"c":1},
{"x":68.2,"y":8,"c":1},{"x":68.2,"y":7.8,"c":1},{"x":68.2,"y":7.6,"c":1},{"x":68.2,"y":7.4,"c":4},{"x":68.2,"y":7.2,"c":6},{"x":68.2,"y":7,"c":7},{"x":68.2,"y":6.8,"c":6},{"x":68.2,"y":6.6,"c":3},{"x":68.2,"y":6.4,"c":1},
{"x":68.7,"y":7.8,"c":1},{"x":68.7,"y":7.6,"c":1},{"x":68.7,"y":7.4,"c":2},{"x":68.7,"y":7.2,"c":4},{"x":68.7,"y":7,"c":7},{"x":68.7,"y":6.8,"c":7},{"x":68.7,"y":6.6,"c":5},{"x":68.7,"y":6.4,"c":2},
{"x":69.2,"y":7.6,"c":1},{"x":69.2,"y":7.4,"c":1},{"x":69.2,"y":7.2,"c":3},{"x":69.2,"y":7,"c":5},{"x":69.2,"y":6.8,"c":7},{"x":69.2,"y":6.6,"c":6},{"x":69.2,"y":6.4,"c":4},{"x":69.2,"y":6.2,"c":2},{"x":69.2,"y":6,"c":1},
{"x":69.7,"y":7.2,"c":1},{"x":69.7,"y":7,"c":3},{"x":69.7,"y":6.8,"c":6},{"x":69.7,"y":6.6,"c":7},{"x":69.7,"y":6.4,"c":6},{"x":69.7,"y":6.2,"c":4},{"x":69.7,"y":6,"c":1},
{"x":70.2,"y":6.8,"c":1},{"x":70.2,"y":6.6,"c":3},{"x":70.2,"y":6.4,"c":5},{"x":70.2,"y":6.2,"c":7},{"x":70.2,"y":6,"c":6},{"x":70.2,"y":5.8,"c":4},{"x":70.2,"y":5.6,"c":2},{"x":70.2,"y":5.4,"c":1},
{"x":70.7,"y":6.2,"c":3},{"x":70.7,"y":6,"c":5},{"x":70.7,"y":5.8,"c":7},{"x":70.7,"y":5.6,"c":6},{"x":70.7,"y":5.4,"c":3},
{"x":71.2,"y":6,"c":2},{"x":71.2,"y":5.8,"c":4},{"x":71.2,"y":5.6,"c":6},{"x":71.2,"y":5.4,"c":7},{"x":71.2,"y":5.2,"c":5},{"x":71.2,"y":5,"c":2},{"x":71.2,"y":4.8,"c":1},{"x":71.2,"y":4.6,"c":1},
{"x":71.7,"y":5.8,"c":1},{"x":71.7,"y":5.6,"c":3},{"x":71.7,"y":5.4,"c":6},{"x":71.7,"y":5.2,"c":7},{"x":71.7,"y":5,"c":5},{"x":71.7,"y":4.8,"c":3},{"x":71.7,"y":4.6,"c":1},{"x":71.7,"y":4.4,"c":1},
{"x":72.2,"y":5.2,"c":3},{"x":72.2,"y":5,"c":6},{"x":72.2,"y":4.8,"c":7},{"x":72.2,"y":4.6,"c":5},{"x":72.2,"y":4.4,"c":3},{"x":72.2,"y":4.2,"c":3},{"x":72.2,"y":4,"c":1},
{"x":72.7,"y":5.2,"c":1},{"x":72.7,"y":5,"c":3},{"x":72.7,"y":4.8,"c":6},{"x":72.7,"y":4.6,"c":7},{"x":72.7,"y":4.4,"c":6},{"x":72.7,"y":4.2,"c":3},{"x":72.7,"y":4,"c":3},{"x":72.7,"y":3.6,"c":1},{"x":72.7,"y":3.4,"c":1},
{"x":73.2,"y":5,"c":1},{"x":73.2,"y":4.8,"c":3},{"x":73.2,"y":4.6,"c":5},{"x":73.2,"y":4.4,"c":7},{"x":73.2,"y":4.2,"c":6},{"x":73.2,"y":4,"c":4},{"x":73.2,"y":3.8,"c":2},{"x":73.2,"y":3.6,"c":1},{"x":73.2,"y":3.2,"c":1},{"x":73.2,"y":3,"c":2},{"x":73.2,"y":2.8,"c":2},{"x":73.2,"y":2.6,"c":1},{"x":73.2,"y":2.4,"c":1},
{"x":73.7,"y":4.8,"c":1},{"x":73.7,"y":4.6,"c":2},{"x":73.7,"y":4.4,"c":4},{"x":73.7,"y":4.2,"c":6},{"x":73.7,"y":4,"c":5},{"x":73.7,"y":3.8,"c":3},{"x":73.7,"y":3.6,"c":2},{"x":73.7,"y":3.4,"c":1},{"x":73.7,"y":3.2,"c":2},{"x":73.7,"y":3,"c":3},{"x":73.7,"y":2.8,"c":3},{"x":73.7,"y":2.6,"c":2},{"x":73.7,"y":2.4,"c":2},{"x":73.7,"y":2.2,"c":1},
{"x":74.2,"y":4.4,"c":1},{"x":74.2,"y":4.2,"c":3},{"x":74.2,"y":4,"c":4},{"x":74.2,"y":3.8,"c":5},{"x":74.2,"y":3.6,"c":4},{"x":74.2,"y":3.4,"c":3},{"x":74.2,"y":3.2,"c":3},{"x":74.2,"y":3,"c":2},{"x":74.2,"y":2.8,"c":3},{"x":74.2,"y":2.6,"c":3},{"x":74.2,"y":2.4,"c":4},{"x":74.2,"y":2.2,"c":3},{"x":74.2,"y":2,"c":2},{"x":74.2,"y":1.8,"c":2},{"x":74.2,"y":1.6,"c":1},
{"x":74.7,"y":4.2,"c":1},{"x":74.7,"y":4,"c":2},{"x":74.7,"y":3.8,"c":4},{"x":74.7,"y":3.6,"c":5},{"x":74.7,"y":3.4,"c":5},{"x":74.7,"y":3.2,"c":3},{"x":74.7,"y":3,"c":3},{"x":74.7,"y":2.8,"c":4},{"x":74.7,"y":2.6,"c":4},{"x":74.7,"y":2.4,"c":3},{"x":74.7,"y":2.2,"c":4},{"x":74.7,"y":2,"c":3},{"x":74.7,"y":1.8,"c":3},{"x":74.7,"y":1.6,"c":2},{"x":74.7,"y":1.4,"c":1},{"x":74.7,"y":1.2,"c":1},
{"x":75.2,"y":3.8,"c":1},{"x":75.2,"y":3.6,"c":3},{"x":75.2,"y":3.4,"c":5},{"x":75.2,"y":3.2,"c":4},{"x":75.2,"y":3,"c":3},{"x":75.2,"y":2.8,"c":3},{"x":75.2,"y":2.6,"c":4},{"x":75.2,"y":2.4,"c":4},{"x":75.2,"y":2.2,"c":5},{"x":75.2,"y":2,"c":4},{"x":75.2,"y":1.8,"c":3},{"x":75.2,"y":1.6,"c":3},{"x":75.2,"y":1.4,"c":2},{"x":75.2,"y":1.2,"c":1},{"x":75.2,"y":1,"c":1},
{"x":75.7,"y":3.6,"c":1},{"x":75.7,"y":3.4,"c":2},{"x":75.7,"y":3.2,"c":3},{"x":75.7,"y":3,"c":4},{"x":75.7,"y":2.8,"c":5},{"x":75.7,"y":2.6,"c":4},{"x":75.7,"y":2.4,"c":4},{"x":75.7,"y":2.2,"c":3},{"x":75.7,"y":2,"c":4},{"x":75.7,"y":1.8,"c":3},{"x":75.7,"y":1.6,"c":3},{"x":75.7,"y":1.4,"c":2},{"x":75.7,"y":1.2,"c":3},{"x":75.7,"y":1,"c":2},{"x":75.7,"y":0.8,"c":1},{"x":75.7,"y":0.6,"c":1},
{"x":76.2,"y":3.4,"c":1},{"x":76.2,"y":3.2,"c":3},{"x":76.2,"y":3,"c":4},{"x":76.2,"y":2.8,"c":4},{"x":76.2,"y":2.6,"c":3},{"x":76.2,"y":2.4,"c":3},{"x":76.2,"y":2.2,"c":4},{"x":76.2,"y":2,"c":3},{"x":76.2,"y":1.8,"c":3},{"x":76.2,"y":1.6,"c":3},{"x":76.2,"y":1.4,"c":2},{"x":76.2,"y":1.2,"c":2},{"x":76.2,"y":1,"c":1},{"x":76.2,"y":0.8,"c":1},{"x":76.2,"y":0.6,"c":1},
{"x":76.7,"y":3.2,"c":2},{"x":76.7,"y":3,"c":3},{"x":76.7,"y":2.8,"c":4},{"x":76.7,"y":2.6,"c":4},{"x":76.7,"y":2.4,"c":5},{"x":76.7,"y":2.2,"c":4},{"x":76.7,"y":2,"c":3},{"x":76.7,"y":1.8,"c":2},{"x":76.7,"y":1.6,"c":3},{"x":76.7,"y":1.4,"c":2},{"x":76.7,"y":1.2,"c":2},{"x":76.7,"y":1,"c":1},{"x":76.7,"y":0.8,"c":1},{"x":76.7,"y":0.6,"c":1},
{"x":77.2,"y":3,"c":1},{"x":77.2,"y":2.8,"c":3},{"x":77.2,"y":2.6,"c":3},{"x":77.2,"y":2.4,"c":5},{"x":77.2,"y":2.2,"c":5},{"x":77.2,"y":2,"c":3},{"x":77.2,"y":1.8,"c":3},{"x":77.2,"y":1.6,"c":2},{"x":77.2,"y":1.4,"c":3},{"x":77.2,"y":1.2,"c":3},{"x":77.2,"y":1,"c":2},{"x":77.2,"y":0.8,"c":2},{"x":77.2,"y":0.6,"c":1},
{"x":77.7,"y":2.8,"c":1},{"x":77.7,"y":2.6,"c":2},{"x":77.7,"y":2.4,"c":4},{"x":77.7,"y":2.2,"c":5},{"x":77.7,"y":2,"c":4},{"x":77.7,"y":1.8,"c":3},{"x":77.7,"y":1.6,"c":3},{"x":77.7,"y":1.4,"c":3},{"x":77.7,"y":1.2,"c":2},{"x":77.7,"y":1,"c":1},{"x":77.7,"y":0.8,"c":1},{"x":77.7,"y":0.6,"c":1},
{"x":78.2,"y":2.6,"c":1},{"x":78.2,"y":2.4,"c":3},{"x":78.2,"y":2.2,"c":5},{"x":78.2,"y":2,"c":6},{"x":78.2,"y":1.8,"c":5},{"x":78.2,"y":1.6,"c":3},{"x":78.2,"y":1.4,"c":2},{"x":78.2,"y":1.2,"c":2},{"x":78.2,"y":1,"c":2},{"x":78.2,"y":0.8,"c":1},{"x":78.2,"y":0.6,"c":1},
{"x":78.7,"y":2.4,"c":1},{"x":78.7,"y":2.2,"c":3},{"x":78.7,"y":2,"c":6},{"x":78.7,"y":1.8,"c":7},{"x":78.7,"y":1.6,"c":4},{"x":78.7,"y":1.4,"c":3},{"x":78.7,"y":1.2,"c":2},{"x":78.7,"y":1,"c":2},{"x":78.7,"y":0.8,"c":1},{"x":78.7,"y":0.6,"c":1},
{"x":79.2,"y":2.2,"c":1},{"x":79.2,"y":2,"c":4},{"x":79.2,"y":1.8,"c":6},{"x":79.2,"y":1.6,"c":7},{"x":79.2,"y":1.4,"c":5},{"x":79.2,"y":1.2,"c":3},{"x":79.2,"y":1,"c":1},{"x":79.2,"y":0.8,"c":1},{"x":79.2,"y":0.6,"c":1},
{"x":79.7,"y":2,"c":2},{"x":79.7,"y":1.8,"c":5},{"x":79.7,"y":1.6,"c":7},{"x":79.7,"y":1.4,"c":5},{"x":79.7,"y":1.2,"c":3},{"x":79.7,"y":1,"c":1},{"x":79.7,"y":0.8,"c":2},{"x":79.7,"y":0.6,"c":1},
{"x":80.2,"y":2.8,"c":1},{"x":80.2,"y":2.6,"c":1},{"x":80.2,"y":2.4,"c":1},{"x":80.2,"y":2,"c":1},{"x":80.2,"y":1.8,"c":3},{"x":80.2,"y":1.6,"c":5},{"x":80.2,"y":1.4,"c":6},{"x":80.2,"y":1.2,"c":3},{"x":80.2,"y":1,"c":2},{"x":80.2,"y":0.8,"c":1},{"x":80.2,"y":0.6,"c":1},
{"x":80.7,"y":2,"c":1},{"x":80.7,"y":1.8,"c":2},{"x":80.7,"y":1.6,"c":4},{"x":80.7,"y":1.4,"c":5},{"x":80.7,"y":1.2,"c":3},{"x":80.7,"y":1,"c":2},{"x":80.7,"y":0.8,"c":1},{"x":80.7,"y":0.6,"c":1},
{"x":81.2,"y":3,"c":1},{"x":81.2,"y":2.8,"c":1},{"x":81.2,"y":1.8,"c":1},{"x":81.2,"y":1.6,"c":2},{"x":81.2,"y":1.4,"c":4},{"x":81.2,"y":1.2,"c":5},{"x":81.2,"y":1,"c":3},{"x":81.2,"y":0.8,"c":2},{"x":81.2,"y":0.6,"c":1},
{"x":81.7,"y":2.8,"c":1},{"x":81.7,"y":2.2,"c":1},{"x":81.7,"y":2,"c":1},{"x":81.7,"y":1.8,"c":2},{"x":81.7,"y":1.6,"c":3},{"x":81.7,"y":1.4,"c":4},{"x":81.7,"y":1.2,"c":5},{"x":81.7,"y":1,"c":3},{"x":81.7,"y":0.8,"c":2},{"x":81.7,"y":0.6,"c":1},
{"x":82.2,"y":2.8,"c":1},{"x":82.2,"y":2,"c":1},{"x":82.2,"y":1.8,"c":1},{"x":82.2,"y":1.6,"c":1},{"x":82.2,"y":1.4,"c":3},{"x":82.2,"y":1.2,"c":3},{"x":82.2,"y":1,"c":2},{"x":82.2,"y":0.8,"c":3},{"x":82.2,"y":0.6,"c":1},
{"x":82.7,"y":2.6,"c":1},{"x":82.7,"y":2.4,"c":1},{"x":82.7,"y":2.2,"c":1},{"x":82.7,"y":2,"c":1},{"x":82.7,"y":1.8,"c":1},{"x":82.7,"y":1.6,"c":1},{"x":82.7,"y":1.4,"c":1},{"x":82.7,"y":1.2,"c":1},{"x":82.7,"y":1,"c":1},{"x":82.7,"y":0.8,"c":3},{"x":82.7,"y":0.6,"c":2},{"x":82.7,"y":0.4,"c":1},
{"x":83.2,"y":1.6,"c":1},{"x":83.2,"y":1.2,"c":1},{"x":83.2,"y":0.8,"c":3},{"x":83.2,"y":0.6,"c":2},{"x":83.2,"y":0.4,"c":1},
{"x":83.7,"y":1.4,"c":1},{"x":83.7,"y":0.8,"c":3},{"x":83.7,"y":0.6,"c":2},{"x":83.7,"y":0.4,"c":1},
{"x":84.2,"y":0.8,"c":3},{"x":84.2,"y":0.6,"c":3},{"x":84.2,"y":0.4,"c":2},
{"x":49.2,"y":17.4,"c":3},{"x":49.2,"y":17.2,"c":4},{"x":49.2,"y":17,"c":4},{"x":49.2,"y":16.8,"c":5},{"x":49.2,"y":16.6,"c":9},{"x":49.2,"y":16.4,"c":6},{"x":49.2,"y":16.2,"c":5},{"x":49.2,"y":16,"c":5},{"x":49.2,"y":15.8,"c":8},{"x":49.2,"y":15.6,"c":4},{"x":49.2,"y":15.4,"c":4},{"x":49.2,"y":15.2,"c":3},{"x":49.2,"y":15,"c":2},{"x":49.2,"y":14.8,"c":1},{"x":49.2,"y":14.6,"c":1},
{"x":49.7,"y":17.4,"c":1},{"x":49.7,"y":17.2,"c":1},{"x":49.7,"y":17,"c":3},{"x":49.7,"y":16.8,"c":3},{"x":49.7,"y":16.6,"c":4},{"x":49.7,"y":16.4,"c":5},{"x":49.7,"y":16.2,"c":5},{"x":49.7,"y":16,"c":6},{"x":49.7,"y":15.8,"c":6},{"x":49.7,"y":15.6,"c":5},{"x":49.7,"y":15.4,"c":6},{"x":49.7,"y":15.2,"c":5},{"x":49.7,"y":15,"c":5},{"x":49.7,"y":14.8,"c":4},{"x":49.7,"y":14.6,"c":3},{"x":49.7,"y":14.4,"c":3},{"x":49.7,"y":13.8,"c":1},
{"x":50.2,"y":16.8,"c":4},{"x":50.2,"y":16.6,"c":3},{"x":50.2,"y":16.4,"c":4},{"x":50.2,"y":16.2,"c":5},{"x":50.2,"y":16,"c":5},{"x":50.2,"y":15.8,"c":5},{"x":50.2,"y":15.6,"c":6},{"x":50.2,"y":15.4,"c":9},{"x":50.2,"y":15.2,"c":6},{"x":50.2,"y":15,"c":5},{"x":50.2,"y":14.8,"c":4},{"x":50.2,"y":14.6,"c":3},{"x":50.2,"y":14.4,"c":2},{"x":50.2,"y":14.2,"c":1},{"x":50.2,"y":14,"c":1},{"x":50.2,"y":13.8,"c":1},
{"x":50.7,"y":16.8,"c":3},{"x":50.7,"y":16.4,"c":1},{"x":50.7,"y":16.2,"c":3},{"x":50.7,"y":16,"c":4},{"x":50.7,"y":15.8,"c":5},{"x":50.7,"y":15.6,"c":5},{"x":50.7,"y":15.4,"c":6},{"x":50.7,"y":15.2,"c":6},{"x":50.7,"y":15,"c":5},{"x":50.7,"y":14.8,"c":5},{"x":50.7,"y":14.6,"c":4},{"x":50.7,"y":14.4,"c":3},{"x":50.7,"y":14.2,"c":2},{"x":50.7,"y":14,"c":1},
{"x":51.2,"y":16.2,"c":1},{"x":51.2,"y":16,"c":2},{"x":51.2,"y":15.8,"c":3},{"x":51.2,"y":15.6,"c":4},{"x":51.2,"y":15.4,"c":5},{"x":51.2,"y":15.2,"c":8},{"x":51.2,"y":15,"c":5},{"x":51.2,"y":14.8,"c":6},{"x":51.2,"y":14.6,"c":5},{"x":51.2,"y":14.4,"c":5},{"x":51.2,"y":14.2,"c":4},{"x":51.2,"y":14,"c":3},{"x":51.2,"y":13.8,"c":2},{"x":51.2,"y":13.6,"c":1},
{"x":51.7,"y":16,"c":1},{"x":51.7,"y":15.8,"c":1},{"x":51.7,"y":15.4,"c":1},{"x":51.7,"y":15.2,"c":1},{"x":51.7,"y":15,"c":3},{"x":51.7,"y":14.8,"c":4},{"x":51.7,"y":14.6,"c":5},{"x":51.7,"y":14.4,"c":6},{"x":51.7,"y":14.2,"c":9},{"x":51.7,"y":14,"c":6},{"x":51.7,"y":13.8,"c":5},{"x":51.7,"y":13.6,"c":4},{"x":51.7,"y":13.4,"c":3},{"x":51.7,"y":13.2,"c":2},
{"x":52.2,"y":15.6,"c":3},{"x":52.2,"y":15,"c":1},{"x":52.2,"y":14.8,"c":3},{"x":52.2,"y":14.6,"c":8},{"x":52.2,"y":14.4,"c":5},{"x":52.2,"y":14.2,"c":6},{"x":52.2,"y":14,"c":9},{"x":52.2,"y":13.8,"c":6},{"x":52.2,"y":13.6,"c":5},{"x":52.2,"y":13.4,"c":5},{"x":52.2,"y":13.2,"c":4},{"x":52.2,"y":13,"c":4},{"x":52.2,"y":12.8,"c":3},{"x":52.2,"y":12.6,"c":2},{"x":52.2,"y":12.4,"c":3},{"x":52.2,"y":12.2,"c":1},
{"x":52.7,"y":14.4,"c":1},{"x":52.7,"y":14.2,"c":2},{"x":52.7,"y":14,"c":4},{"x":52.7,"y":13.8,"c":5},{"x":52.7,"y":13.6,"c":5},{"x":52.7,"y":13.4,"c":6},{"x":52.7,"y":13.2,"c":6},{"x":52.7,"y":13,"c":5},{"x":52.7,"y":12.8,"c":5},{"x":52.7,"y":12.6,"c":5},{"x":52.7,"y":12.4,"c":4},{"x":52.7,"y":12.2,"c":3},{"x":52.7,"y":12,"c":1},
{"x":53.2,"y":14,"c":1},{"x":53.2,"y":13.8,"c":2},{"x":53.2,"y":13.6,"c":3},{"x":53.2,"y":13.4,"c":4},{"x":53.2,"y":13.2,"c":5},{"x":53.2,"y":13,"c":6},{"x":53.2,"y":12.8,"c":6},{"x":53.2,"y":12.6,"c":6},{"x":53.2,"y":12.4,"c":5},{"x":53.2,"y":12.2,"c":9},{"x":53.2,"y":12,"c":5},{"x":53.2,"y":11.8,"c":4},{"x":53.2,"y":11.6,"c":3},{"x":53.2,"y":11.4,"c":1},
{"x":53.7,"y":13.8,"c":1},{"x":53.7,"y":13.6,"c":1},{"x":53.7,"y":13.4,"c":2},{"x":53.7,"y":13.2,"c":3},{"x":53.7,"y":13,"c":5},{"x":53.7,"y":12.8,"c":5},{"x":53.7,"y":12.6,"c":6},{"x":53.7,"y":12.4,"c":6},{"x":53.7,"y":12.2,"c":6},{"x":53.7,"y":12,"c":6},{"x":53.7,"y":11.8,"c":5},{"x":53.7,"y":11.6,"c":4},{"x":53.7,"y":11.4,"c":3},{"x":53.7,"y":11.2,"c":2},{"x":53.7,"y":11,"c":1},
{"x":54.2,"y":13,"c":1},{"x":54.2,"y":12.8,"c":3},{"x":54.2,"y":12.6,"c":4},{"x":54.2,"y":12.4,"c":5},{"x":54.2,"y":12.2,"c":6},{"x":54.2,"y":12,"c":6},{"x":54.2,"y":11.8,"c":9},{"x":54.2,"y":11.6,"c":9},{"x":54.2,"y":11.4,"c":9},{"x":54.2,"y":11.2,"c":6},{"x":54.2,"y":11,"c":5},{"x":54.2,"y":10.8,"c":4},{"x":54.2,"y":10.6,"c":2},{"x":54.2,"y":10.4,"c":1},
{"x":54.7,"y":12.8,"c":1},{"x":54.7,"y":12.6,"c":1},{"x":54.7,"y":12.4,"c":2},{"x":54.7,"y":12.2,"c":4},{"x":54.7,"y":12,"c":5},{"x":54.7,"y":11.8,"c":9},{"x":54.7,"y":11.6,"c":9},{"x":54.7,"y":11.4,"c":6},{"x":54.7,"y":11.2,"c":8},{"x":54.7,"y":11,"c":5},{"x":54.7,"y":10.8,"c":9},{"x":54.7,"y":10.6,"c":4},{"x":54.7,"y":10.4,"c":3},{"x":54.7,"y":10.2,"c":1},
{"x":55.2,"y":11.8,"c":1},{"x":55.2,"y":11.6,"c":4},{"x":55.2,"y":11.4,"c":5},{"x":55.2,"y":11.2,"c":6},{"x":55.2,"y":11,"c":6},{"x":55.2,"y":10.8,"c":6},{"x":55.2,"y":10.6,"c":5},{"x":55.2,"y":10.4,"c":9},{"x":55.2,"y":10.2,"c":5},{"x":55.2,"y":10,"c":3},{"x":55.2,"y":9.8,"c":1},
{"x":55.7,"y":11.4,"c":1},{"x":55.7,"y":11.2,"c":3},{"x":55.7,"y":11,"c":5},{"x":55.7,"y":10.8,"c":6},{"x":55.7,"y":10.6,"c":6},{"x":55.7,"y":10.4,"c":6},{"x":55.7,"y":10.2,"c":6},{"x":55.7,"y":10,"c":9},{"x":55.7,"y":9.8,"c":5},{"x":55.7,"y":9.6,"c":4},{"x":55.7,"y":9.4,"c":3},{"x":55.7,"y":9.2,"c":1},
{"x":56.2,"y":10.8,"c":2},{"x":56.2,"y":10.6,"c":3},{"x":56.2,"y":10.4,"c":5},{"x":56.2,"y":10.2,"c":6},{"x":56.2,"y":10,"c":6},{"x":56.2,"y":9.8,"c":6},{"x":56.2,"y":9.6,"c":5},{"x":56.2,"y":9.4,"c":5},{"x":56.2,"y":9.2,"c":4},{"x":56.2,"y":9,"c":3},{"x":56.2,"y":8.8,"c":1},
{"x":56.7,"y":10.4,"c":1},{"x":56.7,"y":10.2,"c":3},{"x":56.7,"y":10,"c":4},{"x":56.7,"y":9.8,"c":5},{"x":56.7,"y":9.6,"c":6},{"x":56.7,"y":9.4,"c":6},{"x":56.7,"y":9.2,"c":9},{"x":56.7,"y":9,"c":5},{"x":56.7,"y":8.8,"c":5},{"x":56.7,"y":8.6,"c":3},{"x":56.7,"y":8.2,"c":1},{"x":56.7,"y":8,"c":1},
{"x":57.2,"y":9.8,"c":2},{"x":57.2,"y":9.6,"c":4},{"x":57.2,"y":9.4,"c":5},{"x":57.2,"y":9.2,"c":6},{"x":57.2,"y":9,"c":6},{"x":57.2,"y":8.8,"c":6},{"x":57.2,"y":8.6,"c":5},{"x":57.2,"y":8.4,"c":4},{"x":57.2,"y":8.2,"c":3},{"x":57.2,"y":8,"c":1},{"x":57.2,"y":7.8,"c":1},
{"x":57.7,"y":9.6,"c":1},{"x":57.7,"y":9.4,"c":2},{"x":57.7,"y":9.2,"c":3},{"x":57.7,"y":9,"c":5},{"x":57.7,"y":8.8,"c":6},{"x":57.7,"y":8.6,"c":6},{"x":57.7,"y":8.4,"c":6},{"x":57.7,"y":8.2,"c":5},{"x":57.7,"y":8,"c":4},{"x":57.7,"y":7.8,"c":3},{"x":57.7,"y":7.6,"c":2},{"x":57.7,"y":7.4,"c":1},
{"x":58.2,"y":9,"c":1},{"x":58.2,"y":8.8,"c":3},{"x":58.2,"y":8.6,"c":4},{"x":58.2,"y":8.4,"c":5},{"x":58.2,"y":8.2,"c":6},{"x":58.2,"y":8,"c":6},{"x":58.2,"y":7.8,"c":5},{"x":58.2,"y":7.6,"c":4},{"x":58.2,"y":7.4,"c":3},{"x":58.2,"y":7.2,"c":2},{"x":58.2,"y":7,"c":1},
{"x":58.7,"y":8.6,"c":2},{"x":58.7,"y":8.4,"c":3},{"x":58.7,"y":8.2,"c":5},{"x":58.7,"y":8,"c":6},{"x":58.7,"y":7.8,"c":5},{"x":58.7,"y":7.6,"c":6},{"x":58.7,"y":7.4,"c":7},{"x":58.7,"y":7.2,"c":6},{"x":58.7,"y":7,"c":9},{"x":58.7,"y":6.8,"c":1},
{"x":59.2,"y":7.8,"c":2},{"x":59.2,"y":7.6,"c":4},{"x":59.2,"y":7.4,"c":5},{"x":59.2,"y":7.2,"c":5},{"x":59.2,"y":7,"c":6},{"x":59.2,"y":6.8,"c":6},{"x":59.2,"y":6.6,"c":9},{"x":59.2,"y":6.4,"c":6},{"x":59.2,"y":6.2,"c":5},{"x":59.2,"y":6,"c":3},
{"x":59.7,"y":7.8,"c":1},{"x":59.7,"y":7.6,"c":1},{"x":59.7,"y":7.4,"c":1},{"x":59.7,"y":7.2,"c":2},{"x":59.7,"y":7,"c":3},{"x":59.7,"y":6.8,"c":4},{"x":59.7,"y":6.6,"c":5},{"x":59.7,"y":6.4,"c":5},{"x":59.7,"y":6.2,"c":6},{"x":59.7,"y":6,"c":5},{"x":59.7,"y":5.8,"c":4},{"x":59.7,"y":5.6,"c":3},{"x":59.7,"y":5.4,"c":1},
{"x":60.2,"y":7,"c":1},{"x":60.2,"y":6.8,"c":1},{"x":60.2,"y":6.6,"c":1},{"x":60.2,"y":6.4,"c":3},{"x":60.2,"y":6.2,"c":5},{"x":60.2,"y":6,"c":9},{"x":60.2,"y":5.8,"c":5},{"x":60.2,"y":5.6,"c":4},{"x":60.2,"y":5.4,"c":3},{"x":60.2,"y":5.2,"c":1},
{"x":60.7,"y":6.4,"c":2},{"x":60.7,"y":6.2,"c":3},{"x":60.7,"y":6,"c":5},{"x":60.7,"y":5.8,"c":9},{"x":60.7,"y":5.6,"c":3},{"x":60.7,"y":5.4,"c":3},{"x":60.7,"y":5.2,"c":3},{"x":60.7,"y":5,"c":3},{"x":60.7,"y":4.8,"c":3},{"x":60.7,"y":4.6,"c":3},{"x":60.7,"y":4.4,"c":2},{"x":60.7,"y":4.2,"c":1},{"x":60.7,"y":4,"c":1},{"x":60.7,"y":3.8,"c":1},{"x":60.7,"y":3.6,"c":1},{"x":60.7,"y":3.4,"c":1},{"x":60.7,"y":3.2,"c":1},{"x":60.7,"y":3,"c":1},{"x":60.7,"y":2.8,"c":2},{"x":60.7,"y":2.6,"c":8},{"x":60.7,"y":2.4,"c":1},{"x":60.7,"y":2.2,"c":1},{"x":60.7,"y":2,"c":2},{"x":60.7,"y":1.8,"c":2},{"x":60.7,"y":1.6,"c":3},{"x":60.7,"y":1.4,"c":3},{"x":60.7,"y":1.2,"c":3},{"x":60.7,"y":1,"c":2},{"x":60.7,"y":0.8,"c":1},{"x":60.7,"y":0.6,"c":1},
{"x":61.2,"y":5.6,"c":3},{"x":61.2,"y":5.4,"c":4},{"x":61.2,"y":5.2,"c":5},{"x":61.2,"y":5,"c":5},{"x":61.2,"y":4.8,"c":5},{"x":61.2,"y":4.6,"c":4},{"x":61.2,"y":4.4,"c":3},{"x":61.2,"y":4.2,"c":3},{"x":61.2,"y":4,"c":3},{"x":61.2,"y":3.8,"c":2},{"x":61.2,"y":3.6,"c":2},{"x":61.2,"y":3.4,"c":1},{"x":61.2,"y":3.2,"c":2},{"x":61.2,"y":3,"c":2},{"x":61.2,"y":2.8,"c":1},{"x":61.2,"y":2.6,"c":1},{"x":61.2,"y":2.4,"c":3},{"x":61.2,"y":2.2,"c":3},{"x":61.2,"y":2,"c":4},{"x":61.2,"y":1.8,"c":5},{"x":61.2,"y":1.6,"c":4},{"x":61.2,"y":1.4,"c":8},{"x":61.2,"y":1.2,"c":4},{"x":61.2,"y":1,"c":3},{"x":61.2,"y":0.8,"c":2},{"x":61.2,"y":0.6,"c":1},{"x":61.2,"y":0.4,"c":1},
{"x":61.7,"y":5.8,"c":1},{"x":61.7,"y":5.6,"c":2},{"x":61.7,"y":5.4,"c":3},{"x":61.7,"y":5.2,"c":4},{"x":61.7,"y":5,"c":5},{"x":61.7,"y":4.8,"c":4},{"x":61.7,"y":4.6,"c":3},{"x":61.7,"y":4.4,"c":3},{"x":61.7,"y":4.2,"c":3},{"x":61.7,"y":4,"c":4},{"x":61.7,"y":3.8,"c":4},{"x":61.7,"y":3.6,"c":3},{"x":61.7,"y":3.4,"c":4},{"x":61.7,"y":3.2,"c":4},{"x":61.7,"y":3,"c":3},{"x":61.7,"y":2.8,"c":3},{"x":61.7,"y":2.6,"c":3},{"x":61.7,"y":2.4,"c":4},{"x":61.7,"y":2.2,"c":5},{"x":61.7,"y":2,"c":5},{"x":61.7,"y":1.8,"c":5},{"x":61.7,"y":1.6,"c":6},{"x":61.7,"y":1.4,"c":6},{"x":61.7,"y":1.2,"c":4},{"x":61.7,"y":1,"c":3},{"x":61.7,"y":0.8,"c":2},{"x":61.7,"y":0.6,"c":1},
{"x":62.2,"y":5.8,"c":1},{"x":62.2,"y":4.6,"c":8},{"x":62.2,"y":4.4,"c":3},{"x":62.2,"y":4.2,"c":3},{"x":62.2,"y":4,"c":4},{"x":62.2,"y":3.8,"c":5},{"x":62.2,"y":3.6,"c":4},{"x":62.2,"y":3.4,"c":5},{"x":62.2,"y":3.2,"c":5},{"x":62.2,"y":3,"c":5},{"x":62.2,"y":2.8,"c":5},{"x":62.2,"y":2.6,"c":5},{"x":62.2,"y":2.4,"c":6},{"x":62.2,"y":2.2,"c":6},{"x":62.2,"y":2,"c":9},{"x":62.2,"y":1.8,"c":6},{"x":62.2,"y":1.6,"c":6},{"x":62.2,"y":1.4,"c":6},{"x":62.2,"y":1.2,"c":4},{"x":62.2,"y":1,"c":3},{"x":62.2,"y":0.8,"c":1},{"x":62.2,"y":0.6,"c":1},
{"x":62.7,"y":4.2,"c":1},{"x":62.7,"y":4,"c":1},{"x":62.7,"y":3.8,"c":3},{"x":62.7,"y":3.6,"c":4},{"x":62.7,"y":3.4,"c":4},{"x":62.7,"y":3.2,"c":5},{"x":62.7,"y":3,"c":5},{"x":62.7,"y":2.8,"c":5},{"x":62.7,"y":2.6,"c":5},{"x":62.7,"y":2.4,"c":6},{"x":62.7,"y":2.2,"c":5},{"x":62.7,"y":2,"c":5},{"x":62.7,"y":1.8,"c":5},{"x":62.7,"y":1.6,"c":5},{"x":62.7,"y":1.4,"c":5},{"x":62.7,"y":1.2,"c":4},{"x":62.7,"y":1,"c":3},{"x":62.7,"y":0.8,"c":1},{"x":62.7,"y":0.6,"c":1},{"x":62.7,"y":0.4,"c":1},
{"x":63.2,"y":3.4,"c":1},{"x":63.2,"y":3.2,"c":1},{"x":63.2,"y":3,"c":8},{"x":63.2,"y":2.8,"c":4},{"x":63.2,"y":2.6,"c":4},{"x":63.2,"y":2.4,"c":4},{"x":63.2,"y":2.2,"c":4},{"x":63.2,"y":2,"c":3},{"x":63.2,"y":1.8,"c":3},{"x":63.2,"y":1.6,"c":4},{"x":63.2,"y":1.4,"c":4},{"x":63.2,"y":1.2,"c":3},{"x":63.2,"y":1,"c":2},{"x":63.2,"y":0.8,"c":1},{"x":63.2,"y":0.4,"c":1},
{"x":63.7,"y":2,"c":1},{"x":63.7,"y":1.8,"c":1},{"x":63.7,"y":1.6,"c":2},{"x":63.7,"y":1.4,"c":8},{"x":63.7,"y":1.2,"c":3},{"x":63.7,"y":1,"c":2},{"x":63.7,"y":0.8,"c":1},
{"x":64.2,"y":1.4,"c":1},{"x":64.2,"y":1.2,"c":3},{"x":64.2,"y":1,"c":3},{"x":64.2,"y":0.8,"c":1},{"x":64.7,"y":1,"c":1},{"x":64.7,"y":0.8,"c":1},
{"x":60.2,"y":2,"c":1},{"x":60.2,"y":1.8,"c":2},{"x":60.2,"y":1.6,"c":3},{"x":60.2,"y":1.4,"c":3},{"x":60.2,"y":1.2,"c":4},{"x":60.2,"y":1,"c":3},{"x":60.2,"y":0.8,"c":1},{"x":60.2,"y":0.6,"c":1},{"x":60.2,"y":0.4,"c":8},
{"x":59.7,"y":2,"c":2},{"x":59.7,"y":1.8,"c":2},{"x":59.7,"y":1.6,"c":3},{"x":59.7,"y":1.4,"c":2},{"x":59.7,"y":1.2,"c":4},{"x":59.7,"y":1,"c":2},{"x":59.7,"y":0.6,"c":1},
{"x":59.2,"y":2,"c":1},{"x":59.2,"y":1.8,"c":2},{"x":59.2,"y":1.6,"c":3},{"x":59.2,"y":1.4,"c":2},{"x":59.2,"y":1.2,"c":3},{"x":59.2,"y":1,"c":1},{"x":59.2,"y":0.8,"c":1},{"x":59.2,"y":0.6,"c":1},
{"x":58.7,"y":1.6,"c":1},{"x":58.7,"y":1.4,"c":1},{"x":58.7,"y":1.2,"c":2},{"x":58.7,"y":1,"c":3},{"x":58.7,"y":0.8,"c":1},{"x":58.7,"y":0.6,"c":1},
{"x":58.2,"y":1.4,"c":1},{"x":58.2,"y":1.2,"c":1},{"x":58.2,"y":1,"c":3},{"x":58.2,"y":0.8,"c":1},{"x":58.2,"y":0.6,"c":1},
{"x":57.7,"y":1.2,"c":1},{"x":57.7,"y":1,"c":2},{"x":57.7,"y":0.8,"c":1},{"x":57.7,"y":0.6,"c":1},{"x":57.7,"y":0.4,"c":1},
{"x":57.2,"y":1.2,"c":3},{"x":57.2,"y":1,"c":1},{"x":57.2,"y":0.8,"c":1},{"x":57.2,"y":0.6,"c":1},{"x":57.2,"y":0.4,"c":1},
{"x":56.7,"y":0.6,"c":1},{"x":56.7,"y":0.4,"c":1},{"x":56.2,"y":0.6,"c":1},{"x":56.2,"y":0.4,"c":1},{"x":55.7,"y":0.6,"c":1},{"x":55.7,"y":0.4,"c":1},{"x":55.2,"y":0.4,"c":2}
]},"mark":{"type":"rect","clip":true},"encoding":{"x":{"field":"x","type":"quantitative","bin":{"binned":true,"step":0.5},"scale":{"domain":[49.2,84.49],"nice":false,"zero":false},"axis":{"title":"Angle (deg)","titleFont":"Liberation Sans","titleFontSize":27,"titleFontWeight":"bold","titleColor":"#000","titleAlign":"right","titleBaseline":"alphabetic","titleX":479,"titleY":48,"values":[50,51,52,53,54,55,56,57,58,59,60,61,62,63,64,65,66,67,68,69,70,71,72,73,74,75,76,77,78,79,80,81,82,83,84],"labelExpr":"datum.value % 5 === 0 ? datum.value : ''","labelFont":"Liberation Sans","labelFontSize":26,"labelFontWeight":"bold","labelColor":"#000","labelFlush":false,"labelOverlap":false,"labelPadding":17,"tickSize":{"condition":{"test":"datum.value % 5 === 0","value":-14},"value":-7},"tickColor":"#666","tickWidth":1,"domainColor":"#555","domainWidth":2,"grid":false}},"y":{"field":"y","type":"quantitative","bin":{"binned":true,"step":0.2},"scale":{"domain":[0.4,25],"nice":false,"zero":false},"axis":{"title":"Energy (MeV)","titleFont":"Liberation Sans","titleFontSize":26.5,"titleFontWeight":"bold","titleColor":"#000","titleAnchor":"end","titleAlign":"right","titleAngle":-90,"titleBaseline":"alphabetic","titleX":-41,"titleY":2,"values":[1,2,3,4,5,6,7,8,9,10,11,12,13,14,15,16,17,18,19,20,21,22,23,24,25],"labelExpr":"datum.value % 5 === 0 ? datum.value : ''","labelFont":"Liberation Sans","labelFontSize":26,"labelFontWeight":"bold","labelColor":"#000","labelOverlap":false,"labelPadding":16,"tickSize":{"condition":{"test":"datum.value % 5 === 0","value":-14},"value":-7},"tickColor":"#666","tickWidth":1,"domainColor":"#555","domainWidth":2,"grid":false}},"color":{"field":"c","type":"quantitative","legend":null,"scale":{"domain":[1,2,3,4,5,6,7,8,9],"range":["#1a7fdc","#1496cc","#1ea8ae","#3cb58f","#78b97a","#a5b868","#c9b14f","#f3ca2a","#fdea0c"]}}}}
